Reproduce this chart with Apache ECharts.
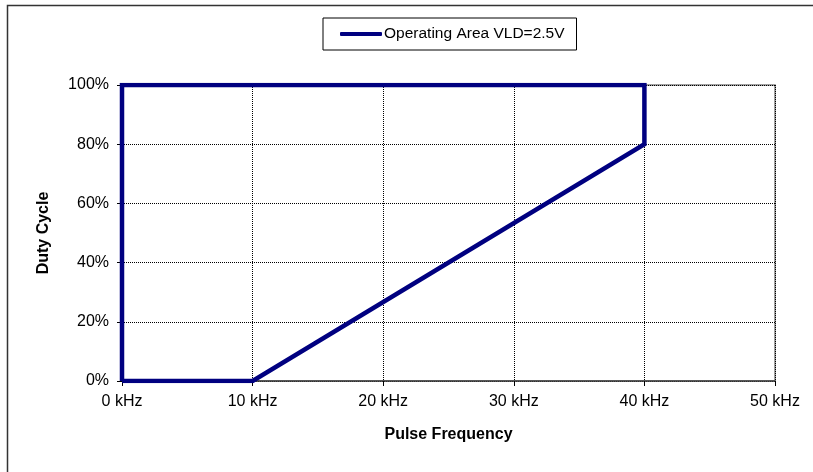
<!DOCTYPE html>
<html>
<head>
<meta charset="utf-8">
<script src="https://cdn.jsdelivr.net/npm/echarts@6/dist/echarts.min.js"></script>
<style>
  html, body { margin: 0; padding: 0; background: #fff; }
  #chart { width: 813px; height: 472px; }
</style>
</head>
<body>
<div id="chart"></div>
<script>
// outline of the operating area, in drawing order
var freqKHz = [0, 10, 40, 40, 0, 0];
var dutyPct = [0, 0, 80, 100, 100, 0];
var seriesName = 'Operating Area VLD=2.5V';

var points = [];
for (var i = 0; i < freqKHz.length; i++) {
    points.push([freqKHz[i], dutyPct[i]]);
}

var myChart = echarts.init(document.getElementById('chart'));
var font = 'Liberation Sans, Arial, sans-serif';

var option = {
    backgroundColor: '#fff',
    animation: false,
    graphic: [{
        type: 'rect',
        left: 5, top: 3,
        shape: { width: 900, height: 600 },
        style: { fill: 'none', stroke: '#333', lineWidth: 1.5 },
        silent: true
    }],
    legend: {
        left: 323, top: 18,
        padding: [8, 12, 8, 17],
        borderColor: '#000', borderWidth: 1,
        itemWidth: 42, itemHeight: 4, itemGap: 4,
        icon: 'roundRect',
        textStyle: { fontFamily: font, fontSize: 15.5, color: '#000', padding: [0, 0, 0, -3] },
        data: [seriesName]
    },
    grid: {
        left: 122, top: 85, right: 38, bottom: 91,
        show: true, borderColor: '#808080', borderWidth: 1.5,
        containLabel: false
    },
    xAxis: {
        type: 'value',
        min: 0, max: 50, interval: 10,
        name: 'Pulse Frequency',
        nameLocation: 'middle', nameGap: 46,
        nameTextStyle: { fontFamily: font, fontSize: 16, fontWeight: 'bold', color: '#000' },
        axisLine: { show: true, lineStyle: { color: '#404040', width: 1.5 } },
        axisTick: { show: true, length: 5, lineStyle: { color: '#000' } },
        axisLabel: { fontFamily: font, fontSize: 16, color: '#000', margin: 13, formatter: '{value} kHz' },
        splitLine: { show: true, lineStyle: { color: '#000', type: [1, 1], width: 1 } }
    },
    yAxis: {
        type: 'value',
        min: 0, max: 100, interval: 20,
        name: 'Duty Cycle',
        nameLocation: 'middle', nameGap: 70,
        nameTextStyle: { fontFamily: font, fontSize: 16, fontWeight: 'bold', color: '#000' },
        axisLine: { show: true, lineStyle: { color: '#404040', width: 1 } },
        axisTick: { show: true, length: 5, lineStyle: { color: '#000' } },
        axisLabel: { fontFamily: font, fontSize: 16, color: '#000', margin: 13, formatter: '{value}%' },
        splitLine: { show: true, lineStyle: { color: '#000', type: [1, 1], width: 1 } }
    },
    series: [{
        name: seriesName,
        type: 'line',
        data: points,
        showSymbol: false,
        symbol: 'none',
        lineStyle: { color: '#000080', width: 4.5, join: 'miter' },
        itemStyle: { color: '#000080' },
        z: 5
    }]
};

myChart.setOption(option);
</script>
</body>
</html>
